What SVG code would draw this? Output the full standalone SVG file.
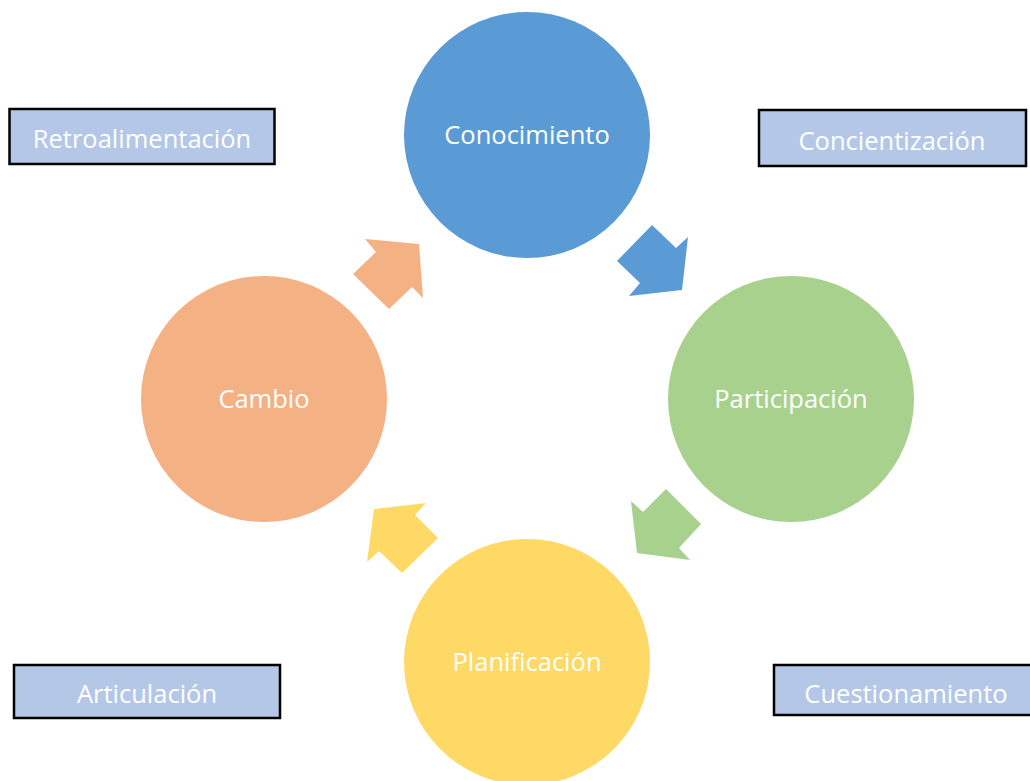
<svg xmlns="http://www.w3.org/2000/svg" width="1030" height="781" viewBox="0 0 1030 781">
<style>
.lbl{font-family:"Open Sans","Noto Sans","Liberation Sans",sans-serif;font-size:25.5px;fill:#ffffff;text-anchor:middle}
.box{fill:#B4C7E7;stroke:#000000;stroke-width:2.5}
</style>
<rect width="1030" height="781" fill="#ffffff"/>
<g id="connectors">
<polygon points="652,225 676,248 688,237 682,290 629,296 640,283 617,261" fill="#5B9BD5"/>
<polygon points="666,489 701,524 679,548 690,560 637,553 631,501 643,512" fill="#A9D18E"/>
<polygon points="374,509 426,503 415,515 438,538 402,573 379,551 367,562" fill="#FFD966"/>
<polygon points="365,239 419,244 423,298 412,287 389,309 353,274 376,252" fill="#F4B183"/>
</g>
<g id="conocimiento">
<circle cx="527" cy="135" r="123" fill="#5B9BD5"/>
<text class="lbl" x="527" y="144">Conocimiento</text>
</g>
<g id="participacion">
<circle cx="791" cy="399" r="123" fill="#A9D18E"/>
<text class="lbl" x="791" y="408">Participación</text>
</g>
<g id="planificacion">
<circle cx="527" cy="662" r="123" fill="#FFD966"/>
<text class="lbl" x="527" y="671">Planificación</text>
</g>
<g id="cambio">
<circle cx="264" cy="399" r="123" fill="#F4B183"/>
<text class="lbl" x="264" y="408">Cambio</text>
</g>
<g id="retroalimentacion">
<rect class="box" x="9.5" y="109" width="265" height="55"/>
<text class="lbl" x="142" y="148">Retroalimentación</text>
</g>
<g id="concientizacion">
<rect class="box" x="759" y="110" width="267" height="56"/>
<text class="lbl" x="892" y="150">Concientización</text>
</g>
<g id="articulacion">
<rect class="box" x="14" y="665" width="266" height="53"/>
<text class="lbl" x="147" y="703">Articulación</text>
</g>
<g id="cuestionamiento">
<rect class="box" x="774" y="665" width="262" height="50"/>
<text class="lbl" x="906" y="703">Cuestionamiento</text>
</g>
</svg>
